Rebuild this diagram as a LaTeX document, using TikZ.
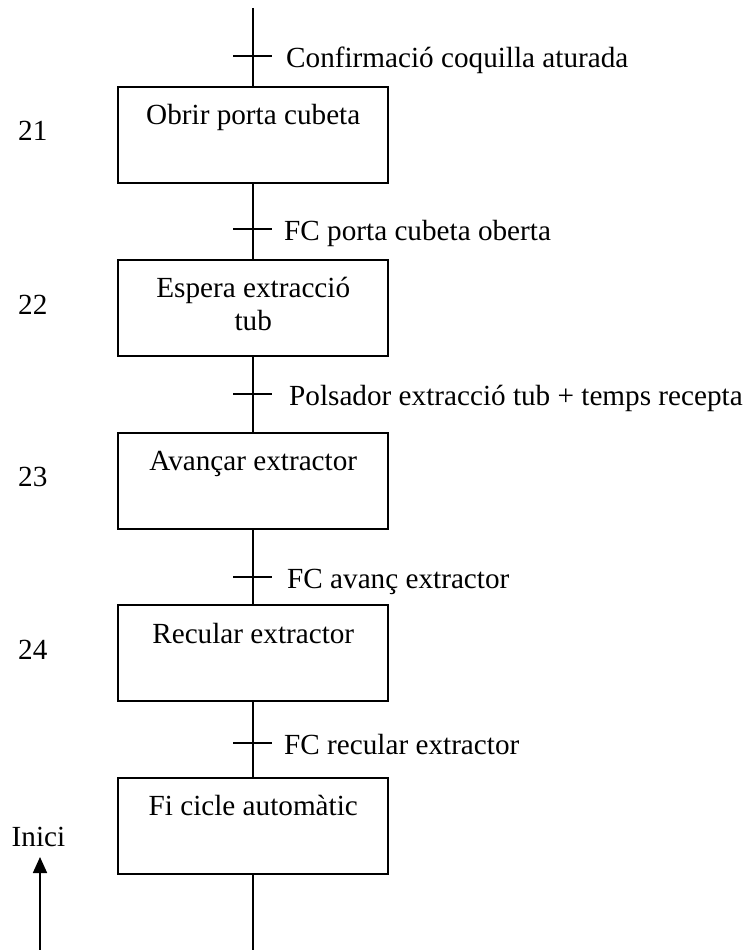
\documentclass[tikz,border=0pt]{standalone}
\usepackage{fontspec}
\setmainfont{Liberation Serif}
\usetikzlibrary{arrows.meta}
\begin{document}
\begin{tikzpicture}[x=1pt,y=-1pt,
  stepbox/.style={draw,line width=1.8pt,minimum width=270pt,minimum height=96pt,inner sep=0pt,anchor=north},
  txt/.style={inner sep=0pt,font=\fontsize{29.2}{33}\selectfont},
  link/.style={line width=1.8pt},
  tick/.style={line width=1.8pt}]
\useasboundingbox (0,0) rectangle (750,950);
% steps
\node[stepbox] (s21) at (253.25,86) {};
\node[stepbox] (s22) at (253.25,259) {};
\node[stepbox] (s23) at (253.25,432) {};
\node[stepbox] (s24) at (253.25,604) {};
\node[stepbox] (s25) at (253.25,777) {};
% step texts
\node[txt,anchor=base] (t21) at (253.25,124) {Obrir porta cubeta};
\node[txt,anchor=base] (t22a) at (253.25,297) {Espera extracció};
\node[txt,anchor=base] (t22b) at (253.25,330) {tub};
\node[txt,anchor=base] (t23) at (253.25,470) {Avançar extractor};
\node[txt,anchor=base] (t24) at (253.25,643) {Recular extractor};
\node[txt,anchor=base] (t25) at (253.25,815) {Fi cicle automàtic};
% step numbers
\node[txt,anchor=base west] (n21) at (18,140) {21};
\node[txt,anchor=base west] (n22) at (18,314) {22};
\node[txt,anchor=base west] (n23) at (18,486) {23};
\node[txt,anchor=base west] (n24) at (18,659) {24};
% links
\coordinate (top) at (253.25,8);
\coordinate (bot) at (253.25,950);
\draw[link] (top) -- (s21.north);
\draw[link] (s21.south) -- (s22.north);
\draw[link] (s22.south) -- (s23.north);
\draw[link] (s23.south) -- (s24.north);
\draw[link] (s24.south) -- (s25.north);
\draw[link] (s25.south) -- (bot);
% transitions
\foreach \n/\y in {1/56,2/229,3/394,4/577,5/743}{
  \coordinate (tr\n) at (253.25,\y);
  \draw[tick] ([xshift=-20pt]tr\n) -- ([xshift=19pt]tr\n);
}
\node[txt,anchor=base west] (c1) at (286,67) {Confirmació coquilla aturada};
\node[txt,anchor=base west] (c2) at (284,240) {FC porta cubeta oberta};
\node[txt,anchor=base west] (c3) at (289,405) {Polsador extracció tub + temps recepta};
\node[txt,anchor=base west] (c4) at (287,588) {FC avanç extractor};
\node[txt,anchor=base west] (c5) at (284,754) {FC recular extractor};
% start
\node[txt,anchor=base] (inici) at (38.5,846) {Inici};
\coordinate (arrbot) at (40,950);
\coordinate (arrtop) at (40,857);
\draw[link,-{Triangle[width=14pt,length=16pt]}] (arrbot) -- (arrtop);
\end{tikzpicture}
\end{document}
